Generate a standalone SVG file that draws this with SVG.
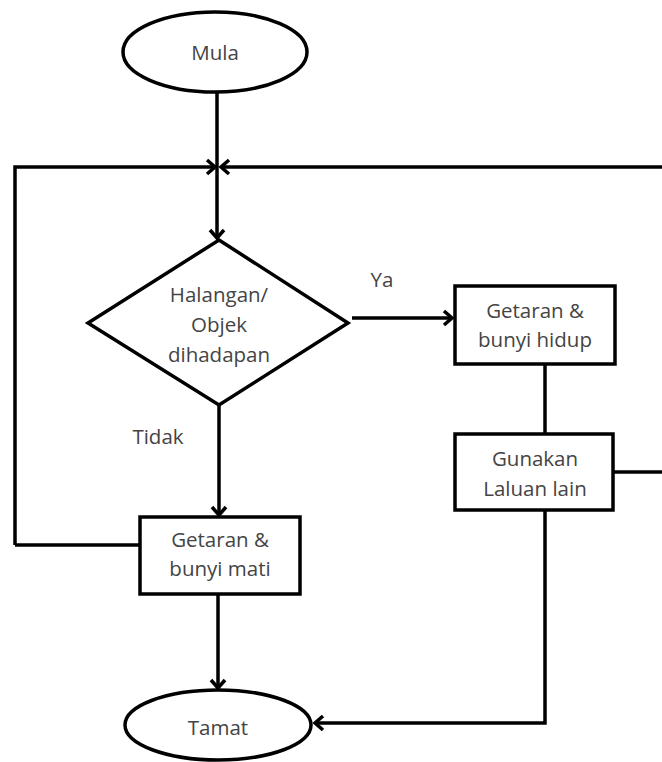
<svg xmlns="http://www.w3.org/2000/svg" width="662" height="762" viewBox="0 0 662 762">
<style>
.s{fill:#fff;stroke:#000;stroke-width:3.5}
.c{fill:none;stroke:#000;stroke-width:3.5}
text{font-family:"Open Sans","Noto Sans",sans-serif;font-size:20.5px;fill:#444;text-anchor:middle}
</style>
<defs>
<marker id="a" markerUnits="userSpaceOnUse" markerWidth="20" markerHeight="20" refX="11" refY="8" orient="auto" viewBox="0 0 20 16">
<polyline points="3,1 11,8 3,15" fill="none" stroke="#000" stroke-width="3.5"/>
</marker>
</defs>
<rect width="662" height="762" fill="#fff"/>
<g id="connectors">
<line class="c" x1="217" y1="93" x2="217" y2="238" marker-end="url(#a)"/>
<polyline class="c" points="15,545 15,167 215,167" marker-end="url(#a)"/>
<line class="c" x1="662" y1="167" x2="221" y2="167" marker-end="url(#a)"/>
<line class="c" x1="352" y1="318" x2="452" y2="318" marker-end="url(#a)"/>
<line class="c" x1="545" y1="364" x2="545" y2="434"/>
<line class="c" x1="613" y1="472" x2="662" y2="472"/>
<polyline class="c" points="545,510 545,723 315,723" marker-end="url(#a)"/>
<line class="c" x1="219" y1="405" x2="219" y2="515" marker-end="url(#a)"/>
<line class="c" x1="140" y1="545" x2="15" y2="545"/>
<line class="c" x1="218" y1="594" x2="218" y2="688" marker-end="url(#a)"/>
<text x="382" y="287">Ya</text>
<text x="158" y="444">Tidak</text>
</g>
<g id="mula">
<ellipse class="s" cx="215" cy="52" rx="92" ry="40"/>
<text x="215" y="60">Mula</text>
</g>
<g id="keputusan">
<polygon class="s" points="219,240 348,323 219,405 88,323"/>
<text x="219" y="302">Halangan/</text>
<text x="219" y="332">Objek</text>
<text x="219" y="362">dihadapan</text>
</g>
<g id="hidup">
<rect class="s" x="455" y="286" width="160" height="78"/>
<text x="535" y="318">Getaran &amp;</text>
<text x="535" y="347">bunyi hidup</text>
</g>
<g id="gunakan">
<rect class="s" x="455" y="434" width="158" height="76"/>
<text x="535" y="466">Gunakan</text>
<text x="535" y="496">Laluan lain</text>
</g>
<g id="mati">
<rect class="s" x="140" y="517" width="160" height="77"/>
<text x="220" y="547">Getaran &amp;</text>
<text x="220" y="576">bunyi mati</text>
</g>
<g id="tamat">
<ellipse class="s" cx="218" cy="725" rx="93" ry="35"/>
<text x="218" y="735">Tamat</text>
</g>
</svg>
